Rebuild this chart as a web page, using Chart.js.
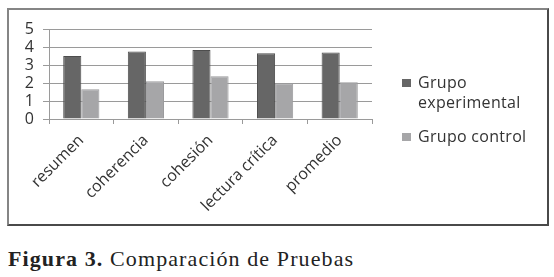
<!DOCTYPE html>
<html>
<head>
<meta charset="utf-8">
<script src="https://cdn.jsdelivr.net/npm/chart.js@4"></script>
<style>
  body { margin: 0; background: #fff; width: 554px; height: 277px; overflow: hidden; position: relative; }
  #frame { position: absolute; left: 7px; top: 8px; width: 538px; height: 214px;
    border: 2px solid #858585; border-right-color: #4a4a4a; border-bottom-color: #4a4a4a; }
  #wrap { position: absolute; left: 0; top: 0; width: 554px; height: 230px; }
  #legend { position: absolute; left: 402px; top: 72px; font-family: "Open Sans", sans-serif;
    font-size: 16px; letter-spacing: 0.3px; color: #333; line-height: 20px; }
  .item { position: relative; padding-left: 16px; margin-bottom: 14px; }
  .item span.box { position: absolute; left: 0; top: 7px; width: 9px; height: 8px; }
  #caption { position: absolute; left: 8px; top: 246px; font-family: "Liberation Serif", serif;
    font-size: 22px; letter-spacing: 1.1px; color: #222; white-space: nowrap; }
</style>
</head>
<body>
<div id="frame"></div>
<div id="wrap"><canvas id="chart" width="554" height="230"></canvas></div>
<div id="legend"></div>
<div id="caption"><b>Figura 3.</b> Comparación de Pruebas</div>
<script>
const categories = ["resumen", "coherencia", "cohesión", "lectura crítica", "promedio"];
const experimental = [3.5, 3.75, 3.83, 3.65, 3.7];
const control = [1.65, 2.1, 2.37, 1.98, 2.04];
const seriesNames = [["Grupo", "experimental"], ["Grupo control"]];

const ctx = document.getElementById("chart").getContext("2d");
const chart = new Chart(ctx, {
  type: "bar",
  data: {
    labels: categories,
    datasets: [
      {
        label: seriesNames[0].join(" "),
        data: experimental,
        backgroundColor: "#666666",
        borderColor: "#4d4d4d",
        borderWidth: 1,
      },
      {
        label: seriesNames[1].join(" "),
        data: control,
        backgroundColor: "#a6a6a8",
        borderColor: "#9a9a9c",
        borderWidth: 1,
      },
    ],
  },
  options: {
    responsive: false,
    animation: false,
    devicePixelRatio: 1,
    layout: { padding: { left: 16, right: 182, top: 29, bottom: 11 } },
    plugins: { legend: { display: false }, tooltip: { enabled: false } },
    datasets: { bar: { categoryPercentage: 0.56, barPercentage: 1.0 } },
    scales: {
      x: {
        afterFit: (s) => { s.height = 100; },
        grid: { drawOnChartArea: false, tickLength: 5, color: "#9a9a9a" },
        border: { color: "#9a9a9a" },
        ticks: {
          minRotation: 45, maxRotation: 45, padding: 7, autoSkip: false,
          color: "#333", font: { family: "Open Sans", size: 16 },
        },
      },
      y: {
        min: 0, max: 5,
        afterFit: (s) => { s.width = 33; },
        grid: { color: "#9a9a9a", tickLength: 6 },
        border: { color: "#9a9a9a" },
        ticks: {
          stepSize: 1, padding: 9, autoSkip: false,
          color: "#333", font: { family: "Open Sans", size: 16 },
        },
      },
    },
  },
});

// legend built from the datasets
const legend = document.getElementById("legend");
chart.data.datasets.forEach((ds, i) => {
  const item = document.createElement("div");
  item.className = "item";
  item.innerHTML = '<span class="box" style="background:' + ds.backgroundColor + '"></span>' +
    seriesNames[i].join("<br>");
  legend.appendChild(item);
});
</script>
</body>
</html>
